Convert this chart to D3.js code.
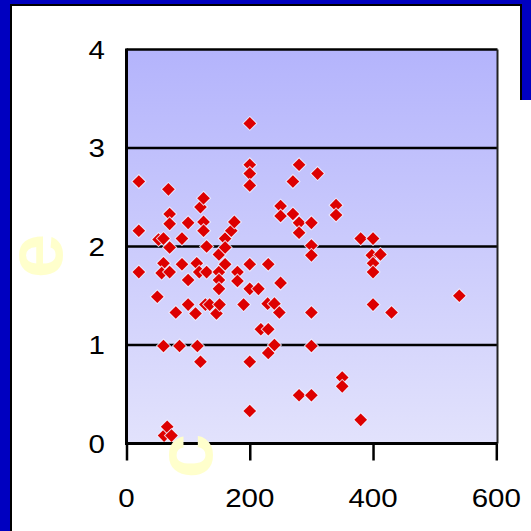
<!DOCTYPE html>
<html>
<head>
<meta charset="utf-8">
<script src="https://cdn.jsdelivr.net/npm/d3@7"></script>
<style>
  html, body { margin: 0; padding: 0; background: #ffffff; }
  svg { display: block; }
</style>
</head>
<body>
<svg id="chart" width="531" height="531"></svg>
<script>
// Horizontal variable (c) and vertical variable (e) for each observation
const cValues = [
  20, 20, 20, 50, 52, 60, 60, 57, 60, 61, 66, 68, 70, 70, 70, 70, 73, 80, 86, 90,
  90, 100, 100, 100, 112, 114, 118, 115, 120, 120, 125, 125, 125, 130, 130, 128, 135, 146, 150, 150,
  150, 150, 151, 160, 160, 160, 170, 175, 180, 180, 190, 200, 200, 200, 200, 200, 200, 200, 200, 214,
  218, 230, 230, 229, 240, 230, 240, 248, 250, 250, 250, 270, 270, 280, 280, 280, 280, 300, 300, 300,
  300, 300, 300, 310, 340, 340, 350, 350, 380, 380, 400, 398, 412, 400, 400, 400, 430, 540
];
const eValues = [
  2.66, 2.16, 1.74, 1.49, 2.07, 2.08, 1.83, 1.73, 0.99, 0.08, 0.17, 2.58, 2.33, 2.23, 1.99, 1.74, 0.08, 1.33, 0.99, 2.08,
  1.82, 2.24, 1.66, 1.41, 1.32, 1.83, 1.74, 0.99, 2.40, 0.83, 2.49, 2.25, 2.16, 2.00, 1.74, 1.41, 1.41, 1.32, 1.92, 1.74,
  1.66, 1.57, 1.41, 2.08, 1.99, 1.82, 2.16, 2.25, 1.74, 1.65, 1.41, 3.25, 2.83, 2.74, 2.62, 1.82, 1.57, 0.83, 0.33, 1.57,
  1.16, 1.16, 1.82, 1.42, 1.42, 0.92, 1.00, 1.33, 2.41, 2.31, 1.63, 2.66, 2.33, 2.83, 2.24, 2.14, 0.49, 2.24, 2.01, 1.91,
  1.33, 0.99, 0.49, 2.74, 2.42, 2.32, 0.67, 0.58, 2.08, 0.24, 2.08, 1.91, 1.92, 1.83, 1.74, 1.41, 1.33, 1.50
];
const xTicks = [0, 200, 400, 600];
const yTicks = [0, 1, 2, 3, 4];
const xTitle = "c";
const yTitle = "e";

const svg = d3.select("#chart");

// Outer frame
svg.append("rect").attr("x", 0).attr("y", 0).attr("width", 531).attr("height", 531).attr("fill", "#ffffff");
svg.append("rect").attr("x", 0).attr("y", 0).attr("width", 10).attr("height", 531).attr("fill", "#0000c0");
svg.append("rect").attr("x", 0).attr("y", 0).attr("width", 531).attr("height", 4).attr("fill", "#0000c0");
svg.append("rect").attr("x", 522).attr("y", 0).attr("width", 9).attr("height", 100).attr("fill", "#0000c0");
svg.append("path").attr("d", "M11,531 V5 H521 V100").attr("fill", "none").attr("stroke", "#000").attr("stroke-width", 2);

const plot = { left: 126.5, right: 497.5, top: 49.5, bottom: 443.5 };

const x = d3.scaleLinear().domain([0, 600]).range([plot.left, 496.3]);
const y = d3.scaleLinear().domain([0, 4]).range([plot.bottom, plot.top]);

// Plot background gradient
const defs = svg.append("defs");
const grad = defs.append("linearGradient").attr("id", "bg").attr("x1", 0).attr("y1", 0).attr("x2", 0).attr("y2", 1);
grad.append("stop").attr("offset", "0%").attr("stop-color", "#b4b4fc");
grad.append("stop").attr("offset", "100%").attr("stop-color", "#e2e2fc");

svg.append("rect")
  .attr("x", plot.left).attr("y", plot.top)
  .attr("width", plot.right - plot.left).attr("height", plot.bottom - plot.top)
  .attr("fill", "url(#bg)");

// Horizontal gridlines
svg.append("g").selectAll("line")
  .data(yTicks.filter(v => v > 0 && v < 4))
  .join("line")
  .attr("x1", plot.left).attr("x2", plot.right)
  .attr("y1", d => y(d)).attr("y2", d => y(d))
  .attr("stroke", "#000").attr("stroke-width", 2.5);

// Plot border
svg.append("line").attr("x1", plot.left).attr("x2", plot.right).attr("y1", plot.top).attr("y2", plot.top)
  .attr("stroke", "#000").attr("stroke-width", 2.5);
svg.append("line").attr("x1", plot.right).attr("x2", plot.right).attr("y1", plot.top).attr("y2", plot.bottom)
  .attr("stroke", "#222").attr("stroke-width", 2);

// Markers
const pts = cValues.map((c, i) => ({ c, e: eValues[i] }));
const diamond = d3.symbol().type(d3.symbolSquare).size(80)();
svg.append("g").selectAll("path")
  .data(pts)
  .join("path")
  .attr("d", diamond)
  .attr("transform", d => `translate(${x(d.c)},${y(d.e)}) rotate(45)`)
  .attr("fill", "#dd0000")
  .attr("stroke", "#f0f0ff")
  .attr("stroke-opacity", 0.85)
  .attr("stroke-width", 2)
  .attr("paint-order", "stroke");

// X axis
const xAxis = svg.append("g")
  .attr("transform", `translate(0,${plot.bottom})`)
  .call(d3.axisBottom(x).tickValues(xTicks).tickSize(17).tickSizeOuter(0).tickFormat(() => ""));
xAxis.select(".domain").attr("stroke", "#000").attr("stroke-width", 3).attr("d", `M${plot.left - 1.5},0H${plot.right}`);
xAxis.selectAll(".tick line").attr("stroke", "#000").attr("stroke-width", 2.5);

// Y axis line
svg.append("line").attr("x1", plot.left).attr("x2", plot.left).attr("y1", plot.top - 1).attr("y2", plot.bottom)
  .attr("stroke", "#000").attr("stroke-width", 3);

const labelFont = "'Liberation Sans', Arial, sans-serif";

// X tick labels
svg.append("g").selectAll("text")
  .data(xTicks)
  .join("text")
  .attr("transform", d => `translate(${x(d)},506.5) scale(1.18,1)`)
  .attr("text-anchor", "middle")
  .attr("font-family", labelFont)
  .attr("font-size", 25)
  .attr("fill", "#000")
  .text(d => d);

// Y tick labels
svg.append("g").selectAll("text")
  .data(yTicks)
  .join("text")
  .attr("transform", d => `translate(105,${y(d) + 9}) scale(1.18,1)`)
  .attr("text-anchor", "end")
  .attr("font-family", labelFont)
  .attr("font-size", 25)
  .attr("fill", "#000")
  .text(d => d);

// Axis titles
svg.append("text")
  .attr("transform", "translate(62,256) rotate(-90)")
  .attr("text-anchor", "middle")
  .attr("font-family", labelFont)
  .attr("font-weight", "bold")
  .attr("font-size", 80)
  .attr("fill", "#ffffcc")
  .text(yTitle);

svg.append("text")
  .attr("transform", "translate(212,456) rotate(-90)")
  .attr("text-anchor", "middle")
  .attr("font-family", labelFont)
  .attr("font-weight", "bold")
  .attr("font-size", 80)
  .attr("fill", "#ffffcc")
  .text(xTitle);
</script>
</body>
</html>
